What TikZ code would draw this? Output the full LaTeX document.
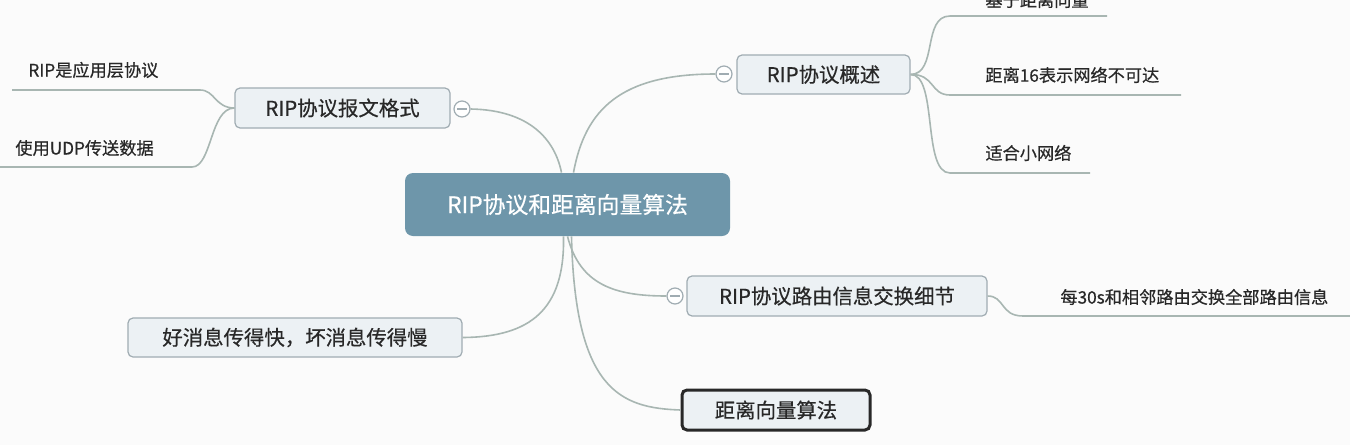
\documentclass[tikz,border=0pt]{standalone}
\usepackage{fontspec}
\setmainfont{Noto Sans CJK SC}[FakeBold=0.5]
\usepackage{tikz}
\usetikzlibrary{calc,positioning}
\definecolor{rootBlue}{RGB}{110,150,170}
\definecolor{boxFill}{RGB}{236,241,244}
\definecolor{boxLine}{RGB}{160,172,178}
\definecolor{branchGrey}{RGB}{168,182,178}
\definecolor{inkDark}{RGB}{40,40,40}

\begin{document}
\begin{tikzpicture}[x=0.5pt, y=-0.5pt,
  topic/.style={draw=boxLine, fill=boxFill, rounded corners=2.5pt, line width=0.6pt,
    text=inkDark, font=\fontsize{10.2}{12}\selectfont, inner sep=0pt},
  leaf/.style={text=inkDark, font=\fontsize{8.6}{10}\selectfont, anchor=west, inner sep=0pt},
  fold/.style={circle, draw=boxLine, fill=white, minimum size=8pt, inner sep=0pt, line width=0.6pt,
    path picture={\draw[boxLine, line width=0.6pt] ([xshift=-2.5pt]path picture bounding box.center) -- ([xshift=2.5pt]path picture bounding box.center);}},
  branch/.style={draw=branchGrey, line width=0.8pt}]
  \useasboundingbox (0,0) rectangle (1350,445);
  \fill[white!97!gray] (0,0) rectangle (1350,445);
  % centre topic
  \node[fill=rootBlue, rounded corners=4pt, minimum width=162.5pt, minimum height=31.5pt,
    text=white, font=\fontsize{11.4}{13}\selectfont] (root) at (567.5,204.5) {RIP协议和距离向量算法};
  % main topics
  \node[topic, minimum width=86.5pt, minimum height=19.5pt] (ov) at (823.5,74.5) {RIP协议概述};
  \node[topic, minimum width=107.5pt, minimum height=20pt] (fmt) at (342.5,108) {RIP协议报文格式};
  \node[topic, minimum width=150pt, minimum height=20pt] (xchg) at (837,296) {RIP协议路由信息交换细节};
  \node[topic, minimum width=167pt, minimum height=19.5pt] (good) at (295,337.5) {好消息传得快，坏消息传得慢};
  \node[topic, draw=inkDark, line width=1.5pt, minimum width=94pt, minimum height=20pt] (dv) at (776,410) {距离向量算法};
  % fold buttons
  \node[fold] (ovf) at (724,74) {};
  \node[fold] (fmtf) at (462,109) {};
  \node[fold] (xchgf) at (675,296) {};
  % sub topics (text above an underline)
  \node[leaf] (base) at (985,0) {基于距离向量};
  \node[leaf] (d16) at (985,75) {距离16表示网络不可达};
  \node[leaf] (small) at (985,153) {适合小网络};
  \node[leaf] (app) at (28,70) {RIP是应用层协议};
  \node[leaf] (udp) at (15,148) {使用UDP传送数据};
  \node[leaf] (every) at (1060,297) {每30s和相邻路由交换全部路由信息};
  % underline ends
  \coordinate (base1) at (950,16); \coordinate (base2) at (1107,16);
  \coordinate (d161) at (950,95); \coordinate (d162) at (1181,95);
  \coordinate (small1) at (950,173); \coordinate (small2) at (1090,173);
  \coordinate (app1) at (200,90); \coordinate (app2) at (12,90);
  \coordinate (udp1) at (192,167); \coordinate (udp2) at (0,167);
  \coordinate (every1) at (1023,316); \coordinate (every2) at (1350,316);
  % root to topics
  \draw[branch] ([xshift=-3pt]root.north) .. controls (555,140) and (530,110) .. (fmtf.east);
  \draw[branch] ([xshift=3pt]root.north) .. controls (585,110) and (620,74) .. (ovf.west);
  \draw[branch] ([xshift=-2pt]root.south) .. controls (565,310) and (530,337) .. (good.east);
  \draw[branch] ([xshift=0pt]root.south) .. controls (580,285) and (615,296) .. (xchgf.west);
  \draw[branch] ([xshift=2pt]root.south) .. controls (575,390) and (620,408) .. (dv.west);
  % topics to sub topics
  \draw[branch] (ov.east) .. controls (938,74) and (922,16) .. (base1) -- (base2);
  \draw[branch] (ov.east) .. controls (935,74) and (930,95) .. (d161) -- (d162);
  \draw[branch] (ov.east) .. controls (938,74) and (922,173) .. (small1) -- (small2);
  \draw[branch] (fmt.west) .. controls (215,108) and (215,90) .. (app1) -- (app2);
  \draw[branch] (fmt.west) .. controls (210,108) and (212,167) .. (udp1) -- (udp2);
  \draw[branch] (xchg.east) .. controls (1005,296) and (1000,316) .. (every1) -- (every2);
\end{tikzpicture}
\end{document}
